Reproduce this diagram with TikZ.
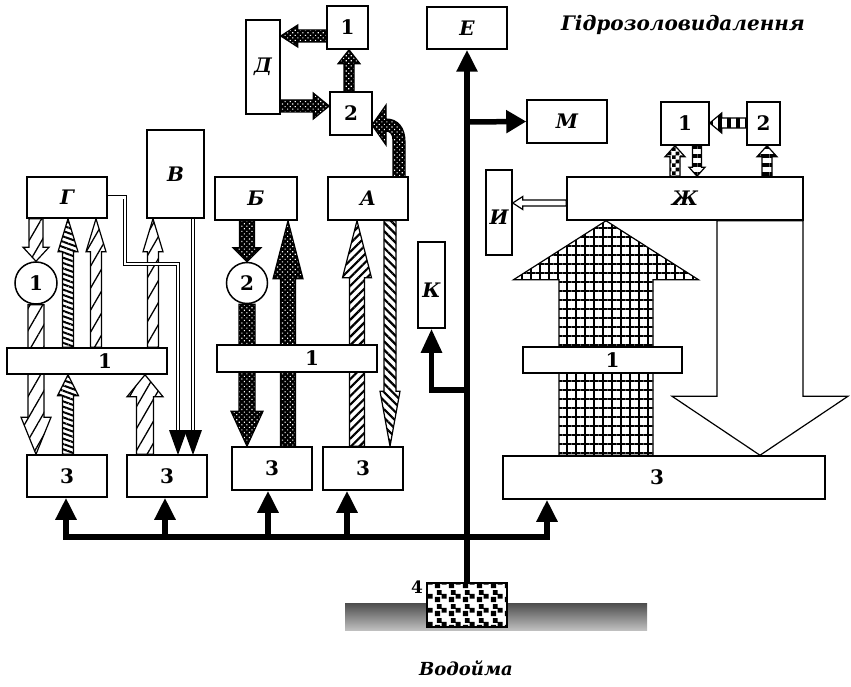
\documentclass[tikz,border=0pt]{standalone}
\usepackage{fontspec}
\setmainfont{DejaVu Serif}
\usetikzlibrary{arrows.meta,patterns,patterns.meta,calc}
\pgfdeclarelayer{bg}
\pgfsetlayers{bg,main}
\pgfdeclarepattern{name=blocks, type=uncolored,
  bottom left={\pgfpoint{0pt}{0pt}}, top right={\pgfpoint{14pt}{14pt}},
  tile size={\pgfpoint{14pt}{14pt}},
  code={\pgfpathrectangle{\pgfpoint{1pt}{1pt}}{\pgfpoint{5.5pt}{5.5pt}}
        \pgfpathrectangle{\pgfpoint{8pt}{4.5pt}}{\pgfpoint{5.5pt}{5pt}}
        \pgfpathrectangle{\pgfpoint{3pt}{8.5pt}}{\pgfpoint{5pt}{5pt}}
        \pgfusepath{fill}}}
\pgfdeclarepattern{name=bigcheck, type=uncolored,
  bottom left={\pgfpoint{0pt}{0pt}}, top right={\pgfpoint{8pt}{8pt}},
  tile size={\pgfpoint{8pt}{8pt}},
  code={\pgfpathrectangle{\pgfpoint{0pt}{0pt}}{\pgfpoint{4pt}{4pt}}
        \pgfpathrectangle{\pgfpoint{4pt}{4pt}}{\pgfpoint{4pt}{4pt}}
        \pgfusepath{fill}}}
% fat arrows: #1 position across, #2 from, #3 to, #4 shaft half, #5 head half, #6 head length, #7 style
\newcommand\fatup[7]{\path[#7] let \p1=#2, \p2=#3 in
  ({(#1-#4)*1pt},\y1) -- ({(#1-#4)*1pt},{\y2-#6*1pt}) -- ({(#1-#5)*1pt},{\y2-#6*1pt}) -- ({#1*1pt},\y2)
  -- ({(#1+#5)*1pt},{\y2-#6*1pt}) -- ({(#1+#4)*1pt},{\y2-#6*1pt}) -- ({(#1+#4)*1pt},\y1) -- cycle;}
\newcommand\fatdown[7]{\path[#7] let \p1=#2, \p2=#3 in
  ({(#1-#4)*1pt},\y1) -- ({(#1-#4)*1pt},{\y2+#6*1pt}) -- ({(#1-#5)*1pt},{\y2+#6*1pt}) -- ({#1*1pt},\y2)
  -- ({(#1+#5)*1pt},{\y2+#6*1pt}) -- ({(#1+#4)*1pt},{\y2+#6*1pt}) -- ({(#1+#4)*1pt},\y1) -- cycle;}
\newcommand\fatleft[7]{\path[#7] let \p1=#2, \p2=#3 in
  (\x1,{-(#1-#4)*1pt}) -- ({\x2+#6*1pt},{-(#1-#4)*1pt}) -- ({\x2+#6*1pt},{-(#1-#5)*1pt}) -- (\x2,{-#1*1pt})
  -- ({\x2+#6*1pt},{-(#1+#5)*1pt}) -- ({\x2+#6*1pt},{-(#1+#4)*1pt}) -- (\x1,{-(#1+#4)*1pt}) -- cycle;}
\newcommand\fatright[7]{\path[#7] let \p1=#2, \p2=#3 in
  (\x1,{-(#1-#4)*1pt}) -- ({\x2-#6*1pt},{-(#1-#4)*1pt}) -- ({\x2-#6*1pt},{-(#1-#5)*1pt}) -- (\x2,{-#1*1pt})
  -- ({\x2-#6*1pt},{-(#1+#5)*1pt}) -- ({\x2-#6*1pt},{-(#1+#4)*1pt}) -- (\x1,{-(#1+#4)*1pt}) -- cycle;}
\tikzset{
  box/.style={draw, line width=1.5pt, fill=white, inner sep=0pt},
  lbl/.style={font=\bfseries\itshape\fontsize{20}{22}\selectfont},
  num/.style={font=\bfseries\fontsize{20}{22}\selectfont},
  arw/.style={draw, line width=1.2pt, line join=miter},
  whitearw/.style={arw, fill=white},
  tick/.style={arw, preaction={fill=white}, pattern={Lines[angle=60,distance=11pt,line width=1.3pt]}},
  ladder/.style={arw, preaction={fill=white}, pattern={Lines[angle=-20,distance=5pt,line width=2pt]}},
  dark/.style={arw, preaction={fill=black}, pattern={Dots[distance=3.6pt,radius=0.8pt,angle=45]}, pattern color=white},
  hatchA/.style={arw, preaction={fill=white}, pattern={Lines[angle=45,distance=6pt,line width=2.2pt]}},
  hatchB/.style={arw, preaction={fill=white}, pattern={Lines[angle=-45,distance=6pt,line width=2.2pt]}},
  gridp/.style={arw, preaction={fill=white}, pattern={Hatch[distance=9pt,line width=2pt]}},
  checkp/.style={arw, preaction={fill=white}, pattern=bigcheck},
  stripeH/.style={arw, preaction={fill=white}, pattern={Lines[angle=90,distance=9pt,line width=4.5pt]}},
  stripeV/.style={arw, preaction={fill=white}, pattern={Lines[angle=0,distance=9pt,line width=4.5pt]}},
  pipe/.style={line width=5.5pt},
  dbl/.style={draw, double, line width=0.9pt, double distance=2.2pt},
}
\begin{document}
\begin{tikzpicture}[x=1pt,y=-1pt]
\useasboundingbox (0,0) rectangle (851,687);
% ground
\fill[top color=black!70, bottom color=black!25] (345,603) rectangle (647,630);
% boxes
\node[box,lbl,minimum width=80pt,minimum height=41pt] (G) at (67,197.5) {Г};
\node[box,lbl,minimum width=57pt,minimum height=88pt] (V) at (175.5,174) {В};
\node[box,lbl,minimum width=82pt,minimum height=43pt] (B) at (256,198.5) {Б};
\node[box,lbl,minimum width=80pt,minimum height=43pt] (A) at (368,198.5) {А};
\node[box,lbl,minimum width=34pt,minimum height=94pt] (D) at (263,67) {Д};
\node[box,num,minimum width=41pt,minimum height=43pt] (T1) at (347.5,27.5) {1};
\node[box,num,minimum width=42pt,minimum height=43pt] (T2) at (351,113.5) {2};
\node[box,lbl,minimum width=80pt,minimum height=42pt] (E) at (467,28) {Е};
\node[box,lbl,minimum width=80pt,minimum height=43pt] (M) at (567,121.5) {М};
\node[box,num,minimum width=48pt,minimum height=43pt] (R1) at (685,123.5) {1};
\node[box,num,minimum width=33pt,minimum height=43pt] (R2) at (763.5,123.5) {2};
\node[box,lbl,minimum width=236pt,minimum height=43pt] (Zh) at (685,198.5) {Ж};
\node[box,minimum width=26pt,minimum height=85pt,label={[lbl,yshift=-5pt]center:И}] (I) at (499,212.5) {};
\node[box,minimum width=27pt,minimum height=86pt,label={[lbl,yshift=-5pt]center:К}] (K) at (431.5,285) {};
\node[box,minimum width=160pt,minimum height=26pt,label={[num,xshift=18pt]center:1}] (L1) at (87,361) {};
\node[box,minimum width=160pt,minimum height=27pt,label={[num,xshift=15pt]center:1}] (M1) at (297,358.5) {};
\node[box,minimum width=159pt,minimum height=26pt,label={[num,xshift=10pt]center:1}] (RB1) at (602.5,360) {};
\node[box,num,minimum width=80pt,minimum height=42pt] (Z1) at (67,476) {3};
\node[box,num,minimum width=80pt,minimum height=42pt] (Z2) at (167,476) {3};
\node[box,num,minimum width=80pt,minimum height=43pt] (Z3) at (272,468.5) {3};
\node[box,num,minimum width=80pt,minimum height=43pt] (Z4) at (363,468.5) {3};
\node[box,minimum width=322pt,minimum height=43pt,label={[num,xshift=-7pt]center:3}] (Z5) at (664,477.5) {};
\node[draw,line width=2pt,fill=white,postaction={pattern=blocks},inner sep=0pt,minimum width=80pt,minimum height=44pt] (W4) at (467,605) {};
\node[font=\bfseries\fontsize{17}{19}\selectfont] (n4) at (417,587) {4};
\node[circle,draw,line width=1.5pt,fill=white,inner sep=0pt,minimum size=42pt,num] (c1) at (36,283) {1};
\node[circle,draw,line width=1.5pt,fill=white,inner sep=0pt,minimum size=41pt,num] (c2) at (247,283) {2};
% texts
\node[font=\bfseries\itshape\fontsize{20}{22}\selectfont] (title) at (683,25) {Гідрозоловидалення};
\node[font=\bfseries\itshape\fontsize{18}{20}\selectfont] (water) at (466,668) {Водойма};
% coordinates for pipes
\coordinate (mb) at (467,122);
\coordinate (kb) at (467,390);
\coordinate (p1) at (66,537);
\coordinate (p2) at (165,537);
\coordinate (p3) at (268,537);
\coordinate (p4) at (347,537);
\coordinate (p5) at (547,537);
\coordinate (g1) at (125,197.5);
\coordinate (g2) at (178,264);
\coordinate (vd) at (193,430);
\coordinate (gd) at (178,430);
\begin{pgfonlayer}{bg}
% water pipes
\draw[pipe,-{Triangle[width=20pt,length=22pt]}] (W4.north) -- (E.south);
\draw[pipe,-{Triangle[width=22pt,length=20pt]}] (mb) -- (M.west);
\draw[pipe,-{Triangle[width=20pt,length=24pt]}] (kb) -| (K.south);
\draw[pipe,line cap=rect] (p1) -- (p5);
\foreach \p/\z in {p1/Z1,p2/Z2,p3/Z3,p4/Z4,p5/Z5}
  \draw[pipe,-{Triangle[width=20pt,length=22pt]}] (\p) -- (\p |- \z.south);
% left section
\fatdown{36}{(G.south)}{(c1.north)}{7}{13}{14}{tick}
\fatdown{36}{(c1.south)}{(Z1.north)}{8}{15}{37}{tick}
\fatup{68}{(L1.north)}{(G.south)}{5.5}{10}{33}{ladder}
\fatup{68}{(Z1.north)}{(L1.south)}{5.5}{10.5}{21}{ladder}
\fatup{96}{(L1.north)}{(G.south)}{5.5}{10}{33}{tick}
\fatup{153}{(L1.north)}{(V.south)}{5.5}{10}{33}{tick}
\fatup{145}{(Z2.north)}{(L1.south)}{8.5}{18}{22}{tick}
\draw[dbl] (G.east) -- (g1) |- (g2) -- (gd);
\draw[dbl] (V.south -| vd) -- (vd);
\fill (169,430) -- (187,430) -- (178,455) -- cycle;
\fill (184,430) -- (202,430) -- (193,455) -- cycle;
% middle section
\fatdown{247}{(B.south)}{(c2.north)}{7.5}{14}{14}{dark}
\fatdown{247}{(c2.south)}{(Z3.north)}{8}{16}{35}{dark}
\fatup{288}{(Z3.north)}{(B.south)}{7.5}{15}{58}{dark}
\fatup{357}{(Z4.north)}{(A.south)}{7.5}{14.5}{57}{hatchA}
\fatdown{390}{(A.south)}{(Z4.north)}{6}{10}{55}{hatchB}
\path[dark] (393,177) -- (393,140) .. controls (393,134) and (390,131) .. (386,131)
  -- (386,145) -- (372,125) -- (386,105) -- (386,119)
  .. controls (398,119) and (405,128) .. (405,142) -- (405,177) -- cycle;
\fatright{106}{(D.east)}{(T2.west)}{6}{13}{16}{dark}
\fatup{349}{(T2.north)}{(T1.south)}{5}{11}{14}{dark}
\fatleft{36}{(T1.west)}{(D.east)}{6}{11}{17}{dark}
% right section
\fatleft{123}{(R2.west)}{(R1.east)}{5}{10}{12}{stripeH}
\fatup{675}{(Zh.north)}{(R1.south)}{5}{10}{11}{checkp}
\fatdown{697}{(R1.south)}{(Zh.north)}{4.5}{8}{9}{stripeV}
\fatup{767}{(Zh.north)}{(R2.south)}{5}{10}{11}{stripeV}
\fatleft{203}{(Zh.west)}{(I.east)}{3}{6.5}{10}{whitearw}
\fatup{606}{(Z5.north)}{(Zh.south)}{47}{92.5}{59}{gridp}
\fatdown{760}{(Zh.south)}{(Z5.north)}{43}{88}{59}{whitearw}
\end{pgfonlayer}
\end{tikzpicture}
\end{document}
